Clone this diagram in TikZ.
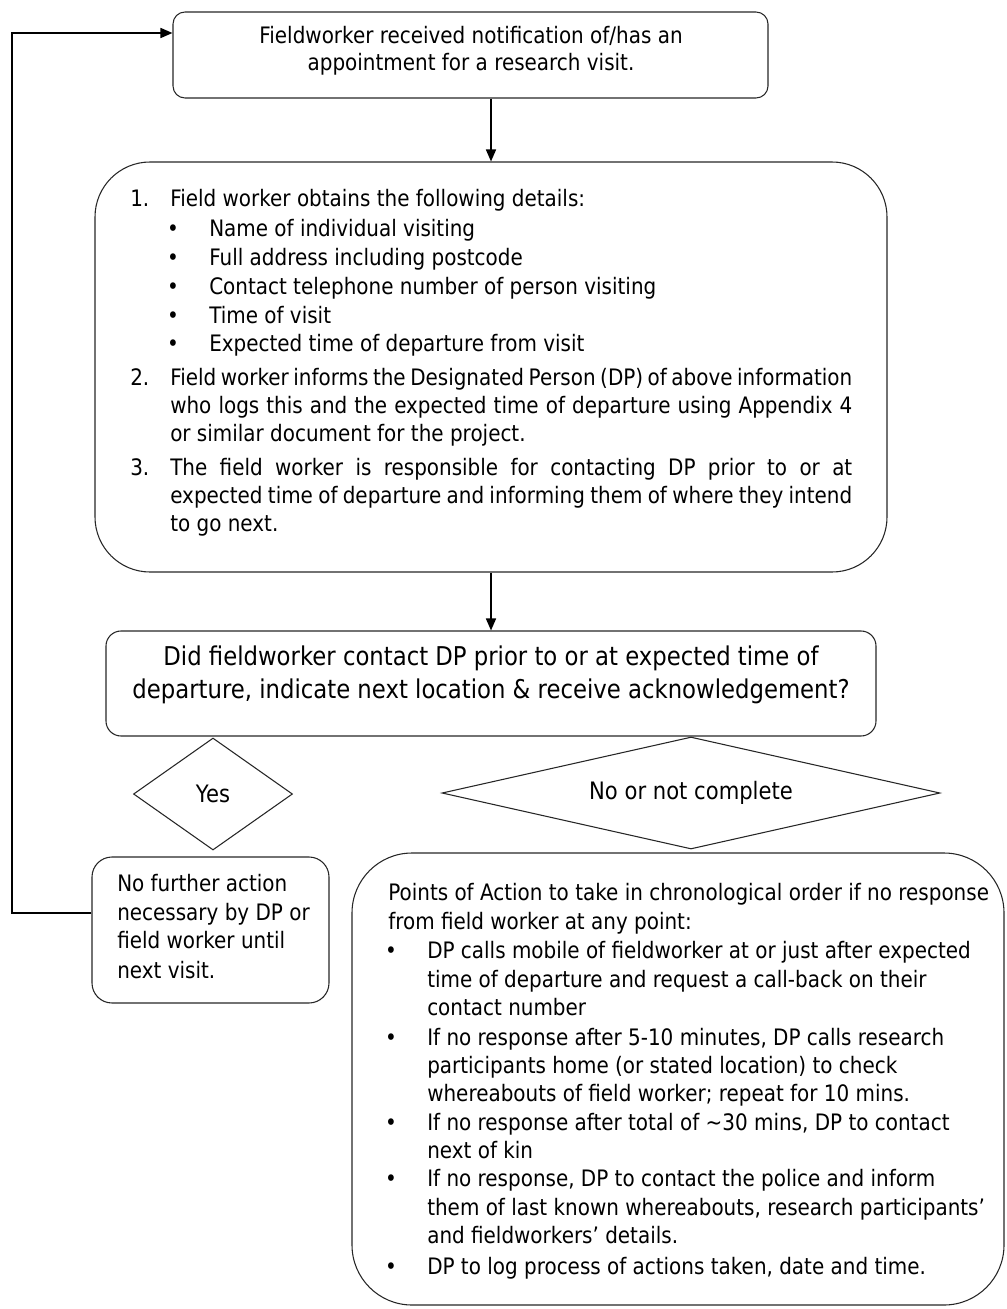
\documentclass[tikz,border=0pt]{standalone}
\usepackage{fontspec}
\setmainfont{DejaVu Sans}[FakeStretch=0.88]
\usetikzlibrary{shapes.geometric,arrows.meta}
\newcommand\bodyfont{\fontsize{17pt}{21pt}\selectfont}
\newcommand\decfont{\fontsize{19.4pt}{23pt}\selectfont}
\newcommand\diafont{\fontsize{18pt}{22pt}\selectfont}
\newcommand\fullline[1]{\makebox[511.5pt][s]{#1}}
\begin{document}
\begin{tikzpicture}[x=0.75pt,y=-0.75pt,
  box/.style={draw=black!85, line width=0.8pt, rectangle, inner sep=0pt},
  dia/.style={draw=black!85, line width=0.8pt, diamond, inner sep=0pt, font=\diafont},
  txt/.style={inner sep=0pt, anchor=mid west, font=\bodyfont},
  ctr/.style={inner sep=0pt, anchor=mid, font=\bodyfont},
  dectxt/.style={inner sep=0pt, anchor=mid, font=\decfont},
  link/.style={line width=1.2pt, -{Triangle[length=9pt,width=7.5pt]}}]
\useasboundingbox (0,0) rectangle (1006,1309);

% boxes
\node[box, rounded corners=9pt, minimum width=446.25pt, minimum height=64.5pt] (top) at (470.5,55) {};
\node[box, rounded corners=41.25pt, minimum width=594pt, minimum height=307.5pt] (box2) at (491,367) {};
\node[box, rounded corners=11.25pt, minimum width=577.5pt, minimum height=78.75pt] (dec) at (491,683.5) {};
\node[dia, shape aspect=1.42, minimum width=119.25pt, minimum height=84pt] (yes) at (213,794) {Yes};
\node[dia, shape aspect=4.45, minimum width=373.5pt, minimum height=84pt] (no) at (691,793) {No or not complete};
\node[box, rounded corners=15pt, minimum width=177.75pt, minimum height=109.5pt] (nfa) at (210.5,930) {};
\node[box, rounded corners=45pt, minimum width=489pt, minimum height=339pt] (pts) at (678,1079) {};

% top box text
\node[ctr] (t1) at (471,40) {Fieldworker received notification of/has an};
\node[ctr] (t2) at (471,67) {appointment for a research visit.};

% numbered list
\node[txt] (n1) at (130,203) {1.};
\node[txt] (s1) at (170,203) {Field worker obtains the following details:};
\node[ctr] (d1) at (173,233) {\textbullet};
\node[txt] (s1a) at (209,233) {Name of individual visiting};
\node[ctr] (d2) at (173,262) {\textbullet};
\node[txt] (s1b) at (209,262) {Full address including postcode};
\node[ctr] (d3) at (173,291) {\textbullet};
\node[txt] (s1c) at (209,291) {Contact telephone number of person visiting};
\node[ctr] (d4) at (173,320) {\textbullet};
\node[txt] (s1d) at (209,320) {Time of visit};
\node[ctr] (d5) at (173,348) {\textbullet};
\node[txt] (s1e) at (209,348) {Expected time of departure from visit};
\node[txt] (n2) at (130,382) {2.};
\node[txt] (s2a) at (170,382) {\fullline{Field worker informs the Designated Person (DP) of above information}};
\node[txt] (s2b) at (170,410) {\fullline{who logs this and the expected time of departure using Appendix 4}};
\node[txt] (s2c) at (170,438) {or similar document for the project.};
\node[txt] (n3) at (130,472) {3.};
\node[txt] (s3a) at (170,472) {\fullline{The field worker is responsible for contacting DP prior to or at}};
\node[txt] (s3b) at (170,500) {\fullline{expected time of departure and informing them of where they intend}};
\node[txt] (s3c) at (170,528) {to go next.};

% decision text
\node[dectxt] (q1) at (491,662) {Did fieldworker contact DP prior to or at expected time of};
\node[dectxt] (q2) at (491,695) {departure, indicate next location \& receive acknowledgement?};

% no further action
\node[txt] (f1) at (117,888) {No further action};
\node[txt] (f2) at (117,917) {necessary by DP or};
\node[txt] (f3) at (117,945) {field worker until};
\node[txt] (f4) at (117,975) {next visit.};

% points of action
\node[txt] (p1) at (388,897) {Points of Action to take in chronological order if no response};
\node[txt] (p2) at (388,926) {from field worker at any point:};
\node[ctr] (e1) at (391,955) {\textbullet};
\node[txt] (p3) at (427,955) {DP calls mobile of fieldworker at or just after expected};
\node[txt] (p4) at (427,984) {time of departure and request a call-back on their};
\node[txt] (p5) at (427,1012) {contact number};
\node[ctr] (e2) at (391,1042) {\textbullet};
\node[txt] (p6) at (427,1042) {If no response after 5-10 minutes, DP calls research};
\node[txt] (p7) at (427,1070) {participants home (or stated location) to check};
\node[txt] (p8) at (427,1098) {whereabouts of field worker; repeat for 10 mins.};
\node[ctr] (e3) at (391,1127) {\textbullet};
\node[txt] (p9) at (427,1127) {If no response after total of \textasciitilde30 mins, DP to contact};
\node[txt] (p10) at (427,1155) {next of kin};
\node[ctr] (e4) at (391,1183) {\textbullet};
\node[txt] (p11) at (427,1183) {If no response, DP to contact the police and inform};
\node[txt] (p12) at (427,1212) {them of last known whereabouts, research participants'};
\node[txt] (p13) at (427,1240) {and fieldworkers' details.};
\node[ctr] (e5) at (391,1271) {\textbullet};
\node[txt] (p14) at (427,1271) {DP to log process of actions taken, date and time.};

% connectors
\coordinate (loopT) at (12,33);
\coordinate (loopB) at (12,913);
\draw[link] (top.south -| box2.north) -- (box2.north);
\draw[link] (box2.south) -- (dec.north);
\draw[link] (nfa.west |- loopB) -- (loopB) -- (loopT) -- (top.west |- loopT);
\end{tikzpicture}
\end{document}
